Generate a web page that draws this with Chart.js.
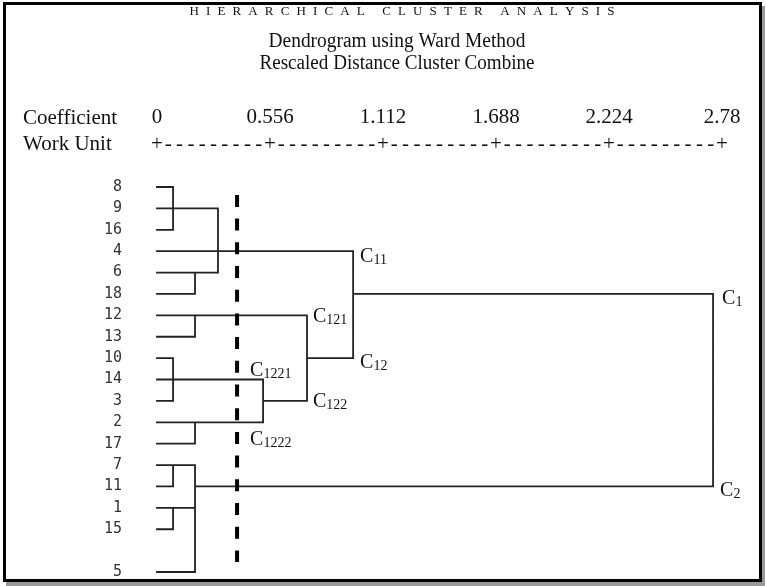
<!DOCTYPE html>
<html><head><meta charset="utf-8">
<script src="https://cdn.jsdelivr.net/npm/chart.js@4/dist/chart.umd.min.js"></script>
<style>html,body{margin:0;padding:0;background:#fff}canvas{display:block}</style>
</head><body>
<canvas id="c" width="766" height="586"></canvas>
<script>
// ---------- data ----------
const titleText = 'HIERARCHICAL CLUSTER ANALYSIS';
const subtitleLines = ['Dendrogram using Ward Method', 'Rescaled Distance Cluster Combine'];
const axisRowNames = ['Coefficient', 'Work Unit'];
const coefficientTicks = [0, 0.556, 1.112, 1.668, 2.224, 2.78];
const coefficientLabels = ['0', '0.556', '1.112', '1.688', '2.224', '2.78'];
const leafLabels = ['8','9','16','4','6','18','12','13','10','14','3','2','17','7','11','1','15','','5'];
const mergeIds      = ['m1','m2','C11','C121','C1221','C1222','C122','C12','C1','m3','m4','C2','root'];
const mergeChildren = [['8','9','16'],['6','18'],['m1','4','m2'],['12','13'],['10','14','3'],['2','17'],
                       ['C1221','C1222'],['C121','C122'],['C11','C12'],['7','11'],['1','15'],['m3','m4','5'],['C1','C2']];
const mergeHeights  = [0.079, 0.187, 0.300, 0.187, 0.079, 0.187, 0.522, 0.738, 0.965, 0.079, 0.079, 0.187, 2.736];
const mergeRows     = [1, 4, 3, 6, 9, 11, 10, 8, 5, 13, 15, 14, null];
const clusterLabels = ['C11', 'C1', 'C12', 'C121', 'C122', 'C2', 'C1221', 'C1222'];
const cutLevel = 0.394;
const cutFromRow = 0.37, cutToRow = 17.53;

// ---------- styles ----------
const serif = '"Liberation Serif", "Times New Roman", serif';
const labelOffsets = { C11:[7,11], C1:[9,10], C12:[7,10], C121:[6,7], C122:[6,6], C2:[7,10], C1221:[-13,-4], C1222:[-13,23] };

// ---------- build tree segments ----------
const nodeInfo = {};
leafLabels.forEach((l, i) => { if (l !== '') nodeInfo[l] = { h: 0, row: i }; });
mergeIds.forEach((id, k) => { nodeInfo[id] = { h: mergeHeights[k], row: mergeRows[k] }; });
const parentOf = {};
const treeSegs = [];
mergeIds.forEach((id, k) => {
  const h = mergeHeights[k];
  const rows = mergeChildren[k].map(c => nodeInfo[c].row);
  treeSegs.push({x: h, y: Math.min(...rows)}, {x: h, y: Math.max(...rows)}, {x: h, y: null});
  mergeChildren[k].forEach(c => {
    parentOf[c] = id;
    const n = nodeInfo[c];
    treeSegs.push({x: n.h, y: n.row}, {x: h, y: n.row}, {x: h, y: null});
  });
});

const extras = {
  id: 'extras',
  beforeDraw(chart) {
    const ctx = chart.ctx;
    ctx.save(); ctx.fillStyle = '#fff'; ctx.fillRect(0, 0, chart.width, chart.height); ctx.restore();
  },
  afterDraw(chart) {
    const ctx = chart.ctx, xs = chart.scales.x, ys = chart.scales.y;
    ctx.save();
    ctx.fillStyle = '#111';
    ctx.textBaseline = 'alphabetic';
    // header line 1, letter-spaced
    ctx.font = '13px ' + serif;
    const chars = titleText.split('');
    const widths = chars.map(c => ctx.measureText(c).width);
    const w0 = widths.reduce((a, b) => a + b, 0);
    const targetW = 425, cx = 402;
    const sp = (targetW - w0) / (chars.length - 1);
    let px = cx - targetW / 2;
    chars.forEach((c, i) => { ctx.textAlign = 'left'; ctx.fillText(c, px, 15); px += widths[i] + sp; });
    // subtitle lines
    const subSpec = [[397, 47, 257], [397, 69, 275]];
    ctx.font = '20px ' + serif;
    subtitleLines.forEach((t, i) => {
      const [sx, sy, sw] = subSpec[i];
      const mw = ctx.measureText(t).width;
      ctx.save(); ctx.translate(sx, sy); ctx.scale(sw / mw, 1);
      ctx.textAlign = 'center'; ctx.fillText(t, 0, 0); ctx.restore();
    });
    // axis row names
    ctx.font = '21px ' + serif; ctx.textAlign = 'left';
    ctx.fillText(axisRowNames[0], 23, 124);
    ctx.fillText(axisRowNames[1], 23, 150);
    // +-----+ row
    ctx.textAlign = 'center';
    for (let i = 0; i < coefficientTicks.length; i++) {
      const p = xs.getPixelForValue(coefficientTicks[i]);
      ctx.fillText('+', p, 150);
      if (i < coefficientTicks.length - 1) {
        const q = xs.getPixelForValue(coefficientTicks[i + 1]);
        for (let k = 1; k <= 9; k++) ctx.fillText('-', p + (q - p) * k / 10, 150);
      }
    }
    // cluster labels
    clusterLabels.forEach(name => {
      const par = parentOf[name];
      const hx = xs.getPixelForValue(nodeInfo[par].h);
      const ry = ys.getPixelForValue(nodeInfo[name].row);
      const [dx, dy] = labelOffsets[name];
      const x = hx + dx, y = ry + dy;
      ctx.textAlign = 'left';
      ctx.font = '20px ' + serif;
      ctx.fillText('C', x, y);
      const cw = ctx.measureText('C').width;
      ctx.font = '14px ' + serif;
      ctx.fillText(name.slice(1), x + cw, y + 2);
    });
    // frame
    ctx.fillStyle = '#9a9a9a';
    ctx.fillRect(762, 6, 3, 580);
    ctx.fillRect(6, 582, 759, 4);
    ctx.strokeStyle = '#000'; ctx.lineWidth = 3;
    ctx.strokeRect(4.5, 3.5, 756, 577);
    ctx.restore();
  }
};

new Chart(document.getElementById('c'), {
  type: 'line',
  data: {
    datasets: [
      { label: 'cut', data: [{x: cutLevel, y: cutFromRow}, {x: cutLevel, y: cutToRow}],
        borderColor: '#000', borderWidth: 4, borderDash: [12, 11.7], borderCapStyle: 'butt',
        pointRadius: 0, clip: false },
      { label: 'tree', data: treeSegs, borderColor: '#222', borderWidth: 1.8,
        borderCapStyle: 'square', borderJoinStyle: 'miter', pointRadius: 0, tension: 0,
        spanGaps: false, clip: false }
    ]
  },
  options: {
    responsive: false, animation: false,
    layout: { padding: { left: 0, top: 0, right: 44, bottom: 8 }, autoPadding: false },
    scales: {
      x: {
        type: 'linear', position: 'top', min: 0, max: 2.78,
        afterBuildTicks: s => { s.ticks = coefficientTicks.map(v => ({value: v})); },
        afterFit: s => { s.height = 170; s.paddingLeft = 0; s.paddingRight = 0; s.paddingTop = 0; s.paddingBottom = 0; },
        grid: { display: false, drawTicks: false }, border: { display: false },
        ticks: { autoSkip: false, maxRotation: 0, padding: 40, color: '#111',
          font: { family: serif, size: 21 },
          callback: (v, i) => coefficientLabels[i] }
      },
      y: {
        type: 'linear', reverse: true, min: -0.795, max: 18.28,
        afterBuildTicks: s => { s.ticks = leafLabels.map((l, i) => ({value: i})); },
        afterFit: s => { s.width = 157; s.paddingLeft = 0; s.paddingRight = 0; s.paddingTop = 0; s.paddingBottom = 0; },
        grid: { display: false, drawTicks: false }, border: { display: false },
        ticks: { autoSkip: false, padding: 35, color: '#333',
          font: { family: '"DejaVu Sans Mono", monospace', size: 15 },
          callback: (v, i) => leafLabels[i] }
      }
    },
    plugins: { legend: { display: false }, tooltip: { enabled: false }, title: { display: false } }
  },
  plugins: [extras]
});
</script>
</body></html>
